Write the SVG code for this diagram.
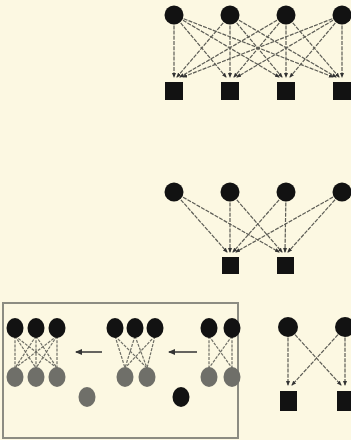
<svg xmlns="http://www.w3.org/2000/svg" width="351" height="440" viewBox="0 0 351 440">
<style>
.bg{fill:#fcf8e2}
.n{fill:#121212}
.g{fill:#6f6f69}
.sq{fill:#121212}
.e{stroke:#5c5c55;stroke-width:1.2;stroke-dasharray:4 1.2;fill:none;marker-end:url(#ah)}
.e2{stroke:#6f6f66;stroke-width:1.2;stroke-dasharray:3 1.2;fill:none}
.ar{stroke:#333;stroke-width:1.5;fill:none;marker-end:url(#ah2)}
.box{fill:none;stroke:#8c8c82;stroke-width:2}
</style>
<defs>
<marker id="ah" markerWidth="5" markerHeight="5" refX="4" refY="2.5" orient="auto" markerUnits="userSpaceOnUse">
<path d="M0,0.5 L5,2.5 L0,4.5 Z" fill="#333"/>
</marker>
<marker id="ah2" markerWidth="7" markerHeight="6" refX="6" refY="3" orient="auto" markerUnits="userSpaceOnUse">
<path d="M0,0 L7,3 L0,6 Z" fill="#333"/>
</marker>
</defs>
<rect class="bg" x="0" y="0" width="351" height="440"/>

<g id="connectors">
<line class="e" x1="174" y1="15" x2="174" y2="77"/>
<line class="e" x1="174" y1="15" x2="226" y2="77"/>
<line class="e" x1="174" y1="15" x2="279" y2="77"/>
<line class="e" x1="174" y1="15" x2="333" y2="77"/>
<line class="e" x1="230" y1="15" x2="177" y2="77"/>
<line class="e" x1="230" y1="15" x2="230" y2="77"/>
<line class="e" x1="230" y1="15" x2="282" y2="77"/>
<line class="e" x1="230" y1="15" x2="336" y2="77"/>
<line class="e" x1="286" y1="15" x2="180" y2="77"/>
<line class="e" x1="286" y1="15" x2="234" y2="77"/>
<line class="e" x1="286" y1="15" x2="286" y2="77"/>
<line class="e" x1="286" y1="15" x2="339" y2="77"/>
<line class="e" x1="342" y1="15" x2="183" y2="77"/>
<line class="e" x1="342" y1="15" x2="237" y2="77"/>
<line class="e" x1="342" y1="15" x2="290" y2="77"/>
<line class="e" x1="342" y1="15" x2="342" y2="77"/>
<line class="e" x1="174" y1="192" x2="227" y2="252"/>
<line class="e" x1="174" y1="192" x2="279" y2="252"/>
<line class="e" x1="230" y1="192" x2="230" y2="252"/>
<line class="e" x1="230" y1="192" x2="282" y2="252"/>
<line class="e" x1="286" y1="192" x2="233" y2="252"/>
<line class="e" x1="286" y1="192" x2="285" y2="252"/>
<line class="e" x1="342" y1="192" x2="236" y2="252"/>
<line class="e" x1="342" y1="192" x2="288" y2="252"/>
<line class="e" x1="288" y1="327" x2="288" y2="385"/>
<line class="e" x1="345" y1="327" x2="292" y2="385"/>
<line class="e" x1="288" y1="327" x2="341" y2="385"/>
<line class="e" x1="345" y1="327" x2="345" y2="385"/>
<line class="e2" x1="15" y1="336" x2="15" y2="368"/>
<line class="e2" x1="15" y1="336" x2="36" y2="368"/>
<line class="e2" x1="15" y1="336" x2="57" y2="368"/>
<line class="e2" x1="36" y1="336" x2="15" y2="368"/>
<line class="e2" x1="36" y1="336" x2="36" y2="368"/>
<line class="e2" x1="36" y1="336" x2="57" y2="368"/>
<line class="e2" x1="57" y1="336" x2="15" y2="368"/>
<line class="e2" x1="57" y1="336" x2="36" y2="368"/>
<line class="e2" x1="57" y1="336" x2="57" y2="368"/>
<line class="e2" x1="115" y1="336" x2="125" y2="368"/>
<line class="e2" x1="115" y1="336" x2="147" y2="368"/>
<line class="e2" x1="135" y1="336" x2="125" y2="368"/>
<line class="e2" x1="135" y1="336" x2="147" y2="368"/>
<line class="e2" x1="155" y1="336" x2="125" y2="368"/>
<line class="e2" x1="155" y1="336" x2="147" y2="368"/>
<line class="e2" x1="209" y1="336" x2="209" y2="368"/>
<line class="e2" x1="209" y1="336" x2="232" y2="368"/>
<line class="e2" x1="232" y1="336" x2="209" y2="368"/>
<line class="e2" x1="232" y1="336" x2="232" y2="368"/>
<line class="ar" x1="102" y1="352" x2="76" y2="352"/>
<line class="ar" x1="197" y1="352" x2="169" y2="352"/>
</g>

<g id="top-circles">
<circle class="n" cx="174" cy="15" r="9.5"/>
<circle class="n" cx="230" cy="15" r="9.5"/>
<circle class="n" cx="286" cy="15" r="9.5"/>
<circle class="n" cx="342" cy="15" r="9.5"/>
</g>
<g id="top-squares">
<rect class="sq" x="165" y="82" width="18" height="18"/>
<rect class="sq" x="221" y="82" width="18" height="18"/>
<rect class="sq" x="277" y="82" width="18" height="18"/>
<rect class="sq" x="333" y="82" width="18" height="18"/>
</g>

<g id="mid-circles">
<circle class="n" cx="174" cy="192" r="9.5"/>
<circle class="n" cx="230" cy="192" r="9.5"/>
<circle class="n" cx="286" cy="192" r="9.5"/>
<circle class="n" cx="342" cy="192" r="9.5"/>
</g>
<g id="mid-squares">
<rect class="sq" x="222" y="257" width="17" height="17"/>
<rect class="sq" x="277" y="257" width="17" height="17"/>
</g>

<g id="br-nodes">
<circle class="n" cx="288" cy="327" r="10"/>
<circle class="n" cx="345" cy="327" r="10"/>
<rect class="sq" x="280" y="391" width="17" height="20"/>
<rect class="sq" x="337" y="391" width="17" height="20"/>
</g>

<g id="box">
<rect class="box" x="3" y="303" width="235" height="135"/>
</g>
<g id="box-group1">
<ellipse class="n" cx="15" cy="328" rx="8.5" ry="10"/>
<ellipse class="n" cx="36" cy="328" rx="8.5" ry="10"/>
<ellipse class="n" cx="57" cy="328" rx="8.5" ry="10"/>
<ellipse class="g" cx="15" cy="377" rx="8.5" ry="10"/>
<ellipse class="g" cx="36" cy="377" rx="8.5" ry="10"/>
<ellipse class="g" cx="57" cy="377" rx="8.5" ry="10"/>
</g>
<g id="box-group2">
<ellipse class="n" cx="115" cy="328" rx="8.5" ry="10"/>
<ellipse class="n" cx="135" cy="328" rx="8.5" ry="10"/>
<ellipse class="n" cx="155" cy="328" rx="8.5" ry="10"/>
<ellipse class="g" cx="125" cy="377" rx="8.5" ry="10"/>
<ellipse class="g" cx="147" cy="377" rx="8.5" ry="10"/>
</g>
<g id="box-group3">
<ellipse class="n" cx="209" cy="328" rx="8.5" ry="10"/>
<ellipse class="n" cx="232" cy="328" rx="8.5" ry="10"/>
<ellipse class="g" cx="209" cy="377" rx="8.5" ry="10"/>
<ellipse class="g" cx="232" cy="377" rx="8.5" ry="10"/>
</g>
<g id="loose-gray"><ellipse class="g" cx="87" cy="397" rx="8.5" ry="10"/></g>
<g id="loose-black"><ellipse class="n" cx="181" cy="397" rx="8.5" ry="10"/></g>
</svg>
